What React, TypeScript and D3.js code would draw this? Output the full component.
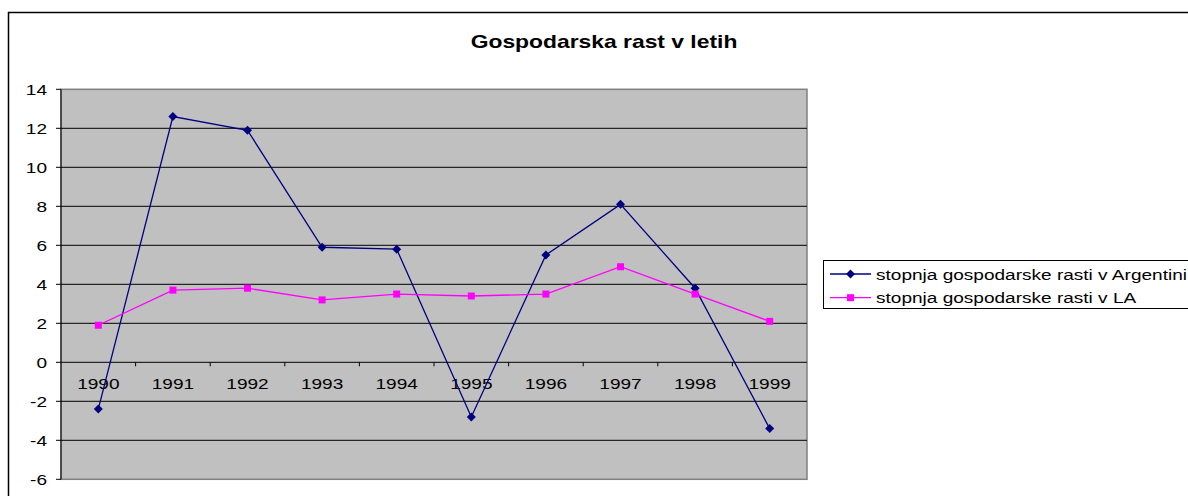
import * as d3 from "d3";

const years = ["1990", "1991", "1992", "1993", "1994", "1995", "1996", "1997", "1998", "1999"];
const argentina = [-2.4, 12.6, 11.9, 5.9, 5.8, -2.8, 5.5, 8.1, 3.8, -3.4];
const latinAmerica = [1.9, 3.7, 3.8, 3.2, 3.5, 3.4, 3.5, 4.9, 3.5, 2.1];
const yTicks = [14, 12, 10, 8, 6, 4, 2, 0, -2, -4, -6];

const seriesList = [
  { name: "stopnja gospodarske rasti v Argentini", values: argentina, color: "#000080", marker: "diamond" },
  { name: "stopnja gospodarske rasti v LA", values: latinAmerica, color: "#FF00FF", marker: "square" },
];

const W = 1188;
const H = 496;
const PLOT = { left: 61, top: 89.3, right: 807, bottom: 479.3 };
const FONT = "'Liberation Sans', Arial, sans-serif";
// the original picture is stretched sideways, text included
const SX = 1.27;

function Marker({ kind, x, y, color }: { kind: string; x: number; y: number; color: string }) {
  if (kind === "diamond") {
    const r = 4.5;
    return <path d={`M${x},${y - r}L${x + r},${y}L${x},${y + r}L${x - r},${y}Z`} fill={color} />;
  }
  const s = 7;
  return <rect x={x - s / 2} y={y - s / 2} width={s} height={s} fill={color} />;
}

function Label({
  x,
  y,
  anchor = "start",
  size = 15,
  bold = false,
  children,
}: {
  x: number;
  y: number;
  anchor?: string;
  size?: number;
  bold?: boolean;
  children: React.ReactNode;
}) {
  return (
    <text
      transform={`translate(${x},${y}) scale(${SX},1)`}
      textAnchor={anchor}
      fontSize={size}
      fontWeight={bold ? "bold" : "normal"}
      fill="#000"
    >
      {children}
    </text>
  );
}

export default function App() {
  const x = d3.scaleBand().domain(years).range([PLOT.left, PLOT.right]);
  const y = d3.scaleLinear().domain([-6, 14]).range([PLOT.bottom, PLOT.top]);
  const cx = (yr: string) => (x(yr) ?? 0) + x.bandwidth() / 2;
  const line = d3
    .line<number>()
    .x((_, i) => cx(years[i]))
    .y((v) => y(v));
  const zeroY = y(0);

  return (
    <svg
      width={W}
      height={H}
      style={{ position: "absolute", left: 0, top: 0, background: "#fff" }}
      fontFamily={FONT}
    >
      <rect x={8.5} y={12.5} width={1300} height={600} fill="none" stroke="#000" strokeWidth={1.5} />
      <Label x={604} y={47.5} anchor="middle" size={18} bold>
        Gospodarska rast v letih
      </Label>

      {/* plot area */}
      <rect
        x={PLOT.left}
        y={PLOT.top}
        width={PLOT.right - PLOT.left}
        height={PLOT.bottom - PLOT.top}
        fill="#C0C0C0"
        stroke="#808080"
        strokeWidth={1.5}
      />
      {yTicks.slice(1, -1).map((t) => (
        <line key={`g${t}`} x1={PLOT.left} x2={PLOT.right} y1={y(t)} y2={y(t)} stroke="#000" strokeWidth={1} />
      ))}
      <line x1={PLOT.left} x2={PLOT.left} y1={PLOT.top} y2={PLOT.bottom} stroke="#000" strokeWidth={1} />
      {yTicks.map((t) => (
        <g key={`yt${t}`}>
          <line x1={PLOT.left - 5} x2={PLOT.left} y1={y(t)} y2={y(t)} stroke="#000" />
          <Label x={47} y={y(t) + 5.5} anchor="end">
            {t}
          </Label>
        </g>
      ))}
      {years.map((yr, i) => (
        <g key={yr}>
          {i > 0 && <line x1={x(yr)} x2={x(yr)} y1={zeroY} y2={zeroY + 4} stroke="#000" />}
          <Label x={cx(yr)} y={zeroY + 27} anchor="middle">
            {yr}
          </Label>
        </g>
      ))}

      {seriesList.map((s) => (
        <g key={s.name}>
          <path d={line(s.values) ?? ""} fill="none" stroke={s.color} strokeWidth={1.3} />
          {s.values.map((v, i) => (
            <Marker key={i} kind={s.marker} x={cx(years[i])} y={y(v)} color={s.color} />
          ))}
        </g>
      ))}

      {/* legend */}
      <rect x={823.5} y={260.5} width={400} height={48} fill="#fff" stroke="#000" strokeWidth={1} />
      {seriesList.map((s, i) => {
        const ly = 274 + i * 23.7;
        return (
          <g key={`lg${s.name}`}>
            <line x1={830} x2={871} y1={ly} y2={ly} stroke={s.color} strokeWidth={1.3} />
            <Marker kind={s.marker} x={850.5} y={ly} color={s.color} />
            <Label x={876} y={ly + 5.5}>
              {s.name}
            </Label>
          </g>
        );
      })}
    </svg>
  );
}
